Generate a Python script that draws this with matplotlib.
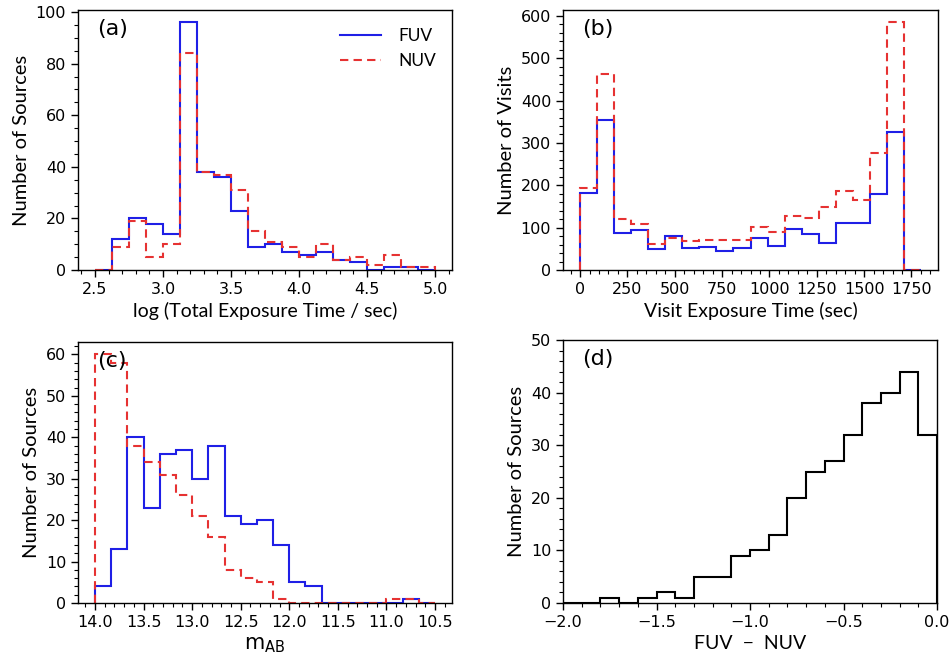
import numpy as np
import matplotlib
matplotlib.use("Agg")
import matplotlib.pyplot as plt
from matplotlib.ticker import MultipleLocator

# (a) log total exposure time, 0.125 bins from 2.5 to 5.0
a_edges = np.linspace(2.5, 5.0, 21)
a_fuv = [0, 12, 20, 18, 14, 96, 38, 36, 23, 9, 10, 7, 6, 7, 4, 3, 0, 1, 1, 0]
a_nuv = [0, 9, 19, 5, 10, 84, 38, 37, 31, 15, 11, 9, 5, 10, 4, 5, 2, 6, 1, 1]

# (b) visit exposure time, 90 s bins
b_edges = np.arange(0, 1801, 90)
b_fuv = [182, 354, 87, 94, 49, 80, 53, 55, 45, 53, 75, 57, 96, 86, 64, 110, 110, 180, 326, 0]
b_nuv = [194, 462, 120, 108, 61, 76, 68, 71, 71, 71, 102, 90, 127, 122, 149, 186, 166, 277, 586, 0]

# (c) m_AB, bins from 14.0 down to 10.5
c_edges = np.linspace(14.0, 10.5, 22)
c_fuv = [4, 13, 40, 23, 36, 37, 30, 38, 21, 19, 20, 14, 5, 4, 0, 0, 0, 0, 0, 1, 0]
c_nuv = [60, 58, 38, 34, 31, 26, 21, 16, 8, 6, 5, 1, 0, 0, 0, 0, 0, 0, 1, 1, 0]

# (d) FUV - NUV colour
d_edges = np.linspace(-2.0, 0.0, 21)
d_counts = [0, 0, 1, 0, 1, 2, 1, 5, 5, 9, 10, 13, 20, 25, 27, 32, 38, 40, 44, 32]

blue = "#1f1fe6"
red = "#e63232"
lab_font = ["Lato", "DejaVu Sans"]

plt.rcParams["font.family"] = "DejaVu Sans"
plt.rcParams["mathtext.fontset"] = "dejavusans"

fig = plt.figure(figsize=(9.51, 6.58), dpi=100)
W, H = 951, 658


def box(l, t, r, b):
    return [l / W, 1 - b / H, (r - l) / W, (b - t) / H]


axa = fig.add_axes(box(78, 10, 452, 270))
axb = fig.add_axes(box(563, 10, 938, 270))
axc = fig.add_axes(box(78, 342, 452, 603))
axd = fig.add_axes(box(563, 340, 937, 603))

axa.stairs(a_fuv, a_edges, baseline=0, color=blue, lw=1.5, label="FUV")
axa.stairs(a_nuv, a_edges, baseline=0, color=red, lw=1.5, ls=(0, (4, 2.5)), label="NUV")
axa.set_xlim(2.375, 5.125)
axa.set_ylim(0, 100.8)
axa.xaxis.set_major_locator(MultipleLocator(0.5))
axa.xaxis.set_minor_locator(MultipleLocator(0.1))
axa.yaxis.set_major_locator(MultipleLocator(20))
axa.yaxis.set_minor_locator(MultipleLocator(5))
axa.set_xlabel("log (Total Exposure Time / sec)", family=lab_font, fontsize=14)
axa.set_ylabel("Number of Sources", family=lab_font, fontsize=14.5)
leg = axa.legend(loc="upper left", bbox_to_anchor=(0.70, 0.93), frameon=False,
                 handlelength=2.4, prop={"family": lab_font, "size": 12.5},
                 borderaxespad=0, borderpad=0, labelspacing=0.5,
                 handletextpad=1.0)

axb.stairs(b_fuv, b_edges, baseline=0, color=blue, lw=1.5)
axb.stairs(b_nuv, b_edges, baseline=0, color=red, lw=1.5, ls=(0, (4, 2.5)))
axb.set_xlim(-90, 1890)
axb.set_ylim(0, 614)
axb.xaxis.set_major_locator(MultipleLocator(250))
axb.xaxis.set_minor_locator(MultipleLocator(50))
axb.yaxis.set_major_locator(MultipleLocator(100))
axb.yaxis.set_minor_locator(MultipleLocator(20))
axb.set_xlabel("Visit Exposure Time (sec)", family=lab_font, fontsize=14)
axb.set_ylabel("Number of Visits", family=lab_font, fontsize=14.5)

axc.stairs(c_fuv, c_edges, baseline=0, color=blue, lw=1.5)
axc.stairs(c_nuv, c_edges, baseline=0, color=red, lw=1.5, ls=(0, (4, 2.5)))
axc.set_xlim(14.175, 10.325)
axc.set_ylim(0, 63)
axc.xaxis.set_major_locator(MultipleLocator(0.5))
axc.xaxis.set_minor_locator(MultipleLocator(0.1))
axc.yaxis.set_major_locator(MultipleLocator(10))
axc.yaxis.set_minor_locator(MultipleLocator(2))
axc.set_xlabel(r"$\mathrm{m}_{\mathrm{AB}}$", fontsize=15)
axc.set_ylabel("Number of Sources", family=lab_font, fontsize=14.5)

axd.stairs(d_counts, d_edges, baseline=0, color="black", lw=1.5)
axd.set_xlim(-2.0, 0.0)
axd.set_ylim(0, 50)
axd.xaxis.set_major_locator(MultipleLocator(0.5))
axd.xaxis.set_minor_locator(MultipleLocator(0.1))
axd.yaxis.set_major_locator(MultipleLocator(10))
axd.yaxis.set_minor_locator(MultipleLocator(2))
axd.set_xlabel("FUV  \u2212  NUV", family=lab_font, fontsize=14)
axd.set_ylabel("Number of Sources", family=lab_font, fontsize=14.5)

for ax, tag in zip([axa, axb, axc, axd], ["(a)", "(b)", "(c)", "(d)"]):
    ax.text(0.05, 0.965, tag, transform=ax.transAxes, ha="left", va="top", fontsize=16)
    ax.tick_params(which="both", direction="out", top=False, right=False, labelsize=11.5)
    ax.tick_params(which="major", length=5, width=1)
    ax.tick_params(which="minor", length=3, width=0.8)
    for s in ax.spines.values():
        s.set_linewidth(1)

fig.savefig("out.png", dpi=100)
